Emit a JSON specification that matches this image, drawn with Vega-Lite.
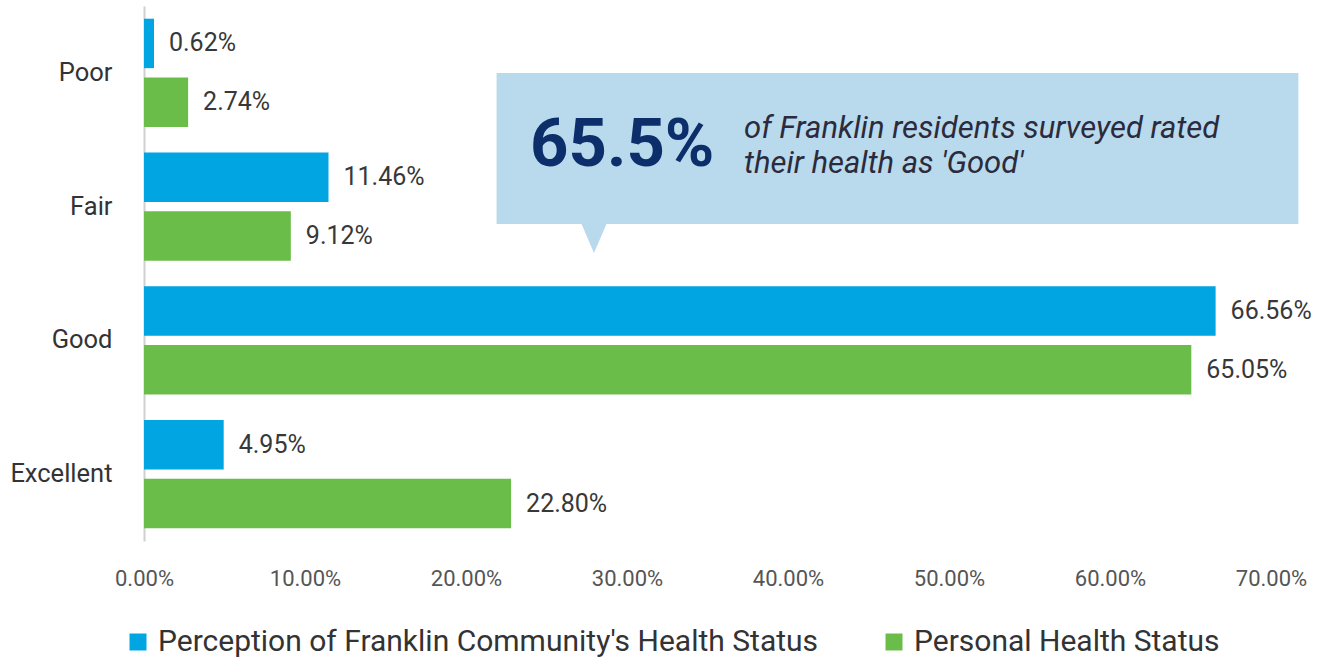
{
  "$schema": "https://vega.github.io/schema/vega-lite/v6.json",
  "width": 1127,
  "height": 535,
  "autosize": {"type": "none"},
  "padding": {"left": 144, "top": 6, "right": 57, "bottom": 121},
  "config": {"view": {"stroke": null}, "font": "Roboto"},
  "datasets": {
    "bars": [
      {"category": "Poor", "series": "Perception of Franklin Community's Health Status", "value": 0.0062},
      {"category": "Poor", "series": "Personal Health Status", "value": 0.0274},
      {"category": "Fair", "series": "Perception of Franklin Community's Health Status", "value": 0.1146},
      {"category": "Fair", "series": "Personal Health Status", "value": 0.0912},
      {"category": "Good", "series": "Perception of Franklin Community's Health Status", "value": 0.6656},
      {"category": "Good", "series": "Personal Health Status", "value": 0.6505},
      {"category": "Excellent", "series": "Perception of Franklin Community's Health Status", "value": 0.0495},
      {"category": "Excellent", "series": "Personal Health Status", "value": 0.228}
    ],
    "box": [{"x0": 0.219, "x1": 0.717, "y0": 0.5, "y1": 1.63}],
    "pointer": [{"x": 0.2795, "y": 1.735}],
    "big": [{"x": 0.2398, "y": 1.05, "t": "65.5%"}],
    "notes": [
      {"x": 0.3727, "y": 0.92, "t": "of Franklin residents surveyed rated"},
      {"x": 0.3727, "y": 1.18, "t": "their health as 'Good'"}
    ]
  },
  "layer": [
    {
      "data": {"name": "bars"},
      "encoding": {
        "y": {
          "field": "category", "type": "nominal",
          "sort": ["Poor", "Fair", "Good", "Excellent"],
          "scale": {"paddingInner": 0.19, "paddingOuter": 0.095},
          "axis": {
            "title": null, "ticks": false, "labelPadding": 32,
            "labelFontSize": 25.5, "labelColor": "#333333",
            "domainColor": "#d0d0d0", "domainWidth": 2, "grid": false
          }
        },
        "yOffset": {
          "field": "series", "type": "nominal",
          "sort": ["Perception of Franklin Community's Health Status", "Personal Health Status"],
          "scale": {"paddingInner": 0.16}
        },
        "x": {
          "field": "value", "type": "quantitative",
          "scale": {"domain": [0, 0.7], "nice": false},
          "axis": {
            "title": null, "format": ".2%", "values": [0, 0.1, 0.2, 0.3, 0.4, 0.5, 0.6, 0.7],
            "domain": false, "ticks": false, "grid": false, "labelFlush": false,
            "labelFontSize": 22, "labelColor": "#555555", "labelPadding": 27
          }
        }
      },
      "layer": [
        {
          "mark": {"type": "bar"},
          "encoding": {
            "color": {
              "field": "series", "type": "nominal",
              "sort": ["Perception of Franklin Community's Health Status", "Personal Health Status"],
              "scale": {"range": ["#00a5e1", "#6bbd4a"]},
              "legend": {
                "title": null, "orient": "none", "direction": "horizontal",
                "legendX": -21, "legendY": 621,
                "symbolType": "square", "symbolSize": 289, "symbolStrokeWidth": 0,
                "labelFontSize": 30, "labelColor": "#333333", "labelLimit": 900,
                "labelOffset": 5, "columnPadding": 60
              }
            }
          }
        },
        {
          "mark": {"type": "text", "align": "left", "baseline": "middle", "dx": 15, "fontSize": 25, "color": "#383838"},
          "encoding": {"text": {"field": "value", "type": "quantitative", "format": ".2%"}}
        }
      ]
    },
    {
      "layer": [
        {
          "data": {"name": "box"},
          "mark": {"type": "rect", "color": "#b9d9ec"},
          "encoding": {
            "x": {"field": "x0", "type": "quantitative", "scale": {"domain": [0, 0.7], "nice": false}},
            "x2": {"field": "x1"},
            "y": {"field": "y0", "type": "quantitative", "scale": {"domain": [0, 4], "reverse": true, "nice": false}, "axis": null},
            "y2": {"field": "y1"}
          }
        },
        {
          "data": {"name": "pointer"},
          "mark": {"type": "point", "shape": "M-0.86,-1L0.86,-1L0,1Z", "filled": true, "color": "#b9d9ec", "size": 900, "opacity": 1},
          "encoding": {
            "x": {"field": "x", "type": "quantitative", "scale": {"domain": [0, 0.7], "nice": false}},
            "y": {"field": "y", "type": "quantitative", "scale": {"domain": [0, 4], "reverse": true, "nice": false}, "axis": null}
          }
        },
        {
          "data": {"name": "big"},
          "mark": {"type": "text", "align": "left", "baseline": "middle", "fontSize": 67, "fontWeight": "bold", "color": "#0c2f6b"},
          "encoding": {
            "x": {"field": "x", "type": "quantitative", "scale": {"domain": [0, 0.7], "nice": false}},
            "y": {"field": "y", "type": "quantitative", "scale": {"domain": [0, 4], "reverse": true, "nice": false}, "axis": null},
            "text": {"field": "t"}
          }
        },
        {
          "data": {"name": "notes"},
          "mark": {"type": "text", "align": "left", "baseline": "middle", "fontSize": 31, "fontStyle": "italic", "color": "#2b2b3d"},
          "encoding": {
            "x": {"field": "x", "type": "quantitative", "scale": {"domain": [0, 0.7], "nice": false}},
            "y": {"field": "y", "type": "quantitative", "scale": {"domain": [0, 4], "reverse": true, "nice": false}, "axis": null},
            "text": {"field": "t"}
          }
        }
      ]
    }
  ],
  "resolve": {"scale": {"y": "independent"}}
}
